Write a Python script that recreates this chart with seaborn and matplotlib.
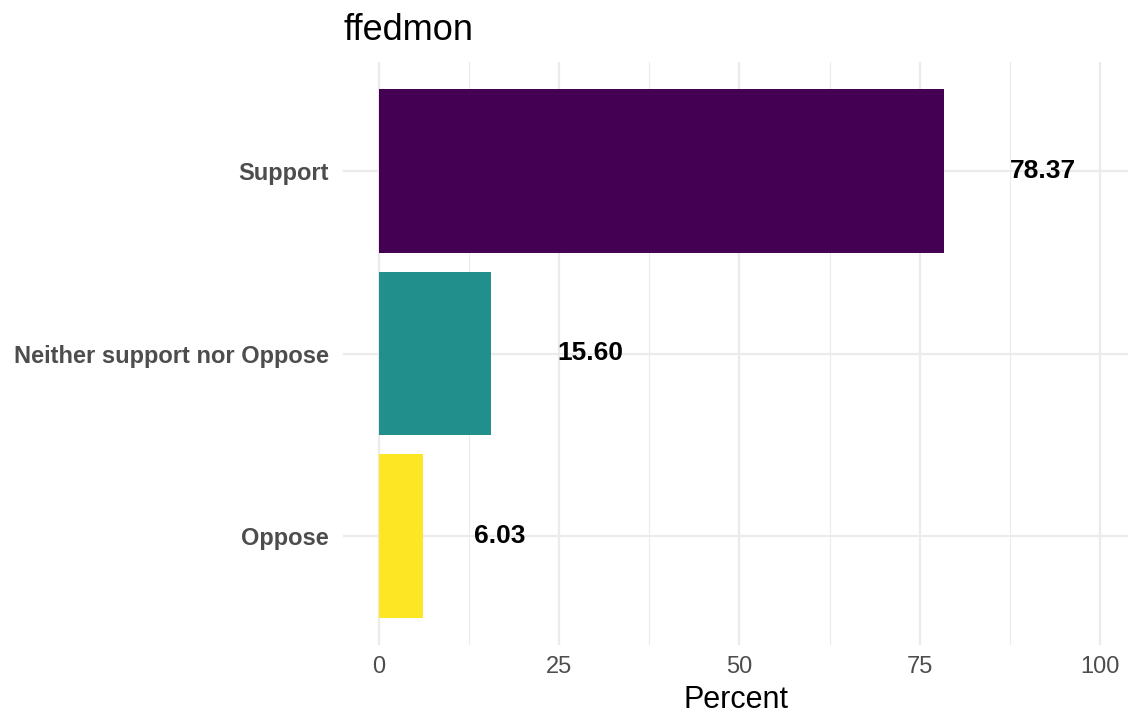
import pandas as pd
import matplotlib
matplotlib.use("Agg")
import matplotlib.pyplot as plt
import seaborn as sns
from matplotlib.ticker import MultipleLocator
from matplotlib.transforms import ScaledTranslation

# Data
categories = ["Support", "Neither support nor Oppose", "Oppose"]
percents = [78.37, 15.60, 6.03]
colors = ["#440154", "#21908C", "#FDE725"]

df = pd.DataFrame({"response": categories, "percent": percents})

sns.set_style("white")
plt.rcParams["font.family"] = ["Liberation Sans", "DejaVu Sans"]

fig = plt.figure(figsize=(11.28, 7.17), dpi=100)
ax = fig.add_axes([343 / 1128, 1 - 645 / 717, 1 - 343 / 1128, (645 - 62) / 717])

sns.barplot(data=df, x="percent", y="response", hue="response", order=categories,
            palette=colors, saturation=1, width=0.9, linewidth=0,
            legend=False, ax=ax, zorder=2)

ax.set_xlim(-5, 103.9)
ax.set_ylim(2.6, -0.6)

# value labels, pushed right by their own width (like hjust = -1)
fig.canvas.draw()
renderer = fig.canvas.get_renderer()
for i, v in enumerate(percents):
    t = ax.text(v, i, f"{v:.2f}", ha="left", va="center",
                fontsize=19, fontweight="bold", color="black", zorder=3)
    w = t.get_window_extent(renderer).width
    t.set_transform(ax.transData + ScaledTranslation(w / fig.dpi, 0, fig.dpi_scale_trans))

ax.xaxis.set_major_locator(MultipleLocator(25))
ax.xaxis.set_minor_locator(MultipleLocator(12.5))
ax.grid(True, which="major", axis="both", color="#EBEBEB", linewidth=1.6, zorder=0)
ax.grid(True, which="minor", axis="x", color="#EBEBEB", linewidth=0.8, zorder=0)
ax.set_axisbelow(True)
for s in ax.spines.values():
    s.set_visible(False)

ax.tick_params(axis="both", which="both", length=0)
ax.tick_params(axis="x", labelsize=17, labelcolor="#4D4D4D", pad=8)
ax.tick_params(axis="y", labelsize=17, labelcolor="#4D4D4D", pad=10)
for lbl in ax.get_yticklabels():
    lbl.set_fontweight("bold")

ax.set_xlabel("Percent", fontsize=22, labelpad=5, color="black")
ax.set_ylabel("")
ax.set_title("ffedmon", loc="left", fontsize=26, pad=16, color="black")

fig.savefig("out.png", dpi=100)
